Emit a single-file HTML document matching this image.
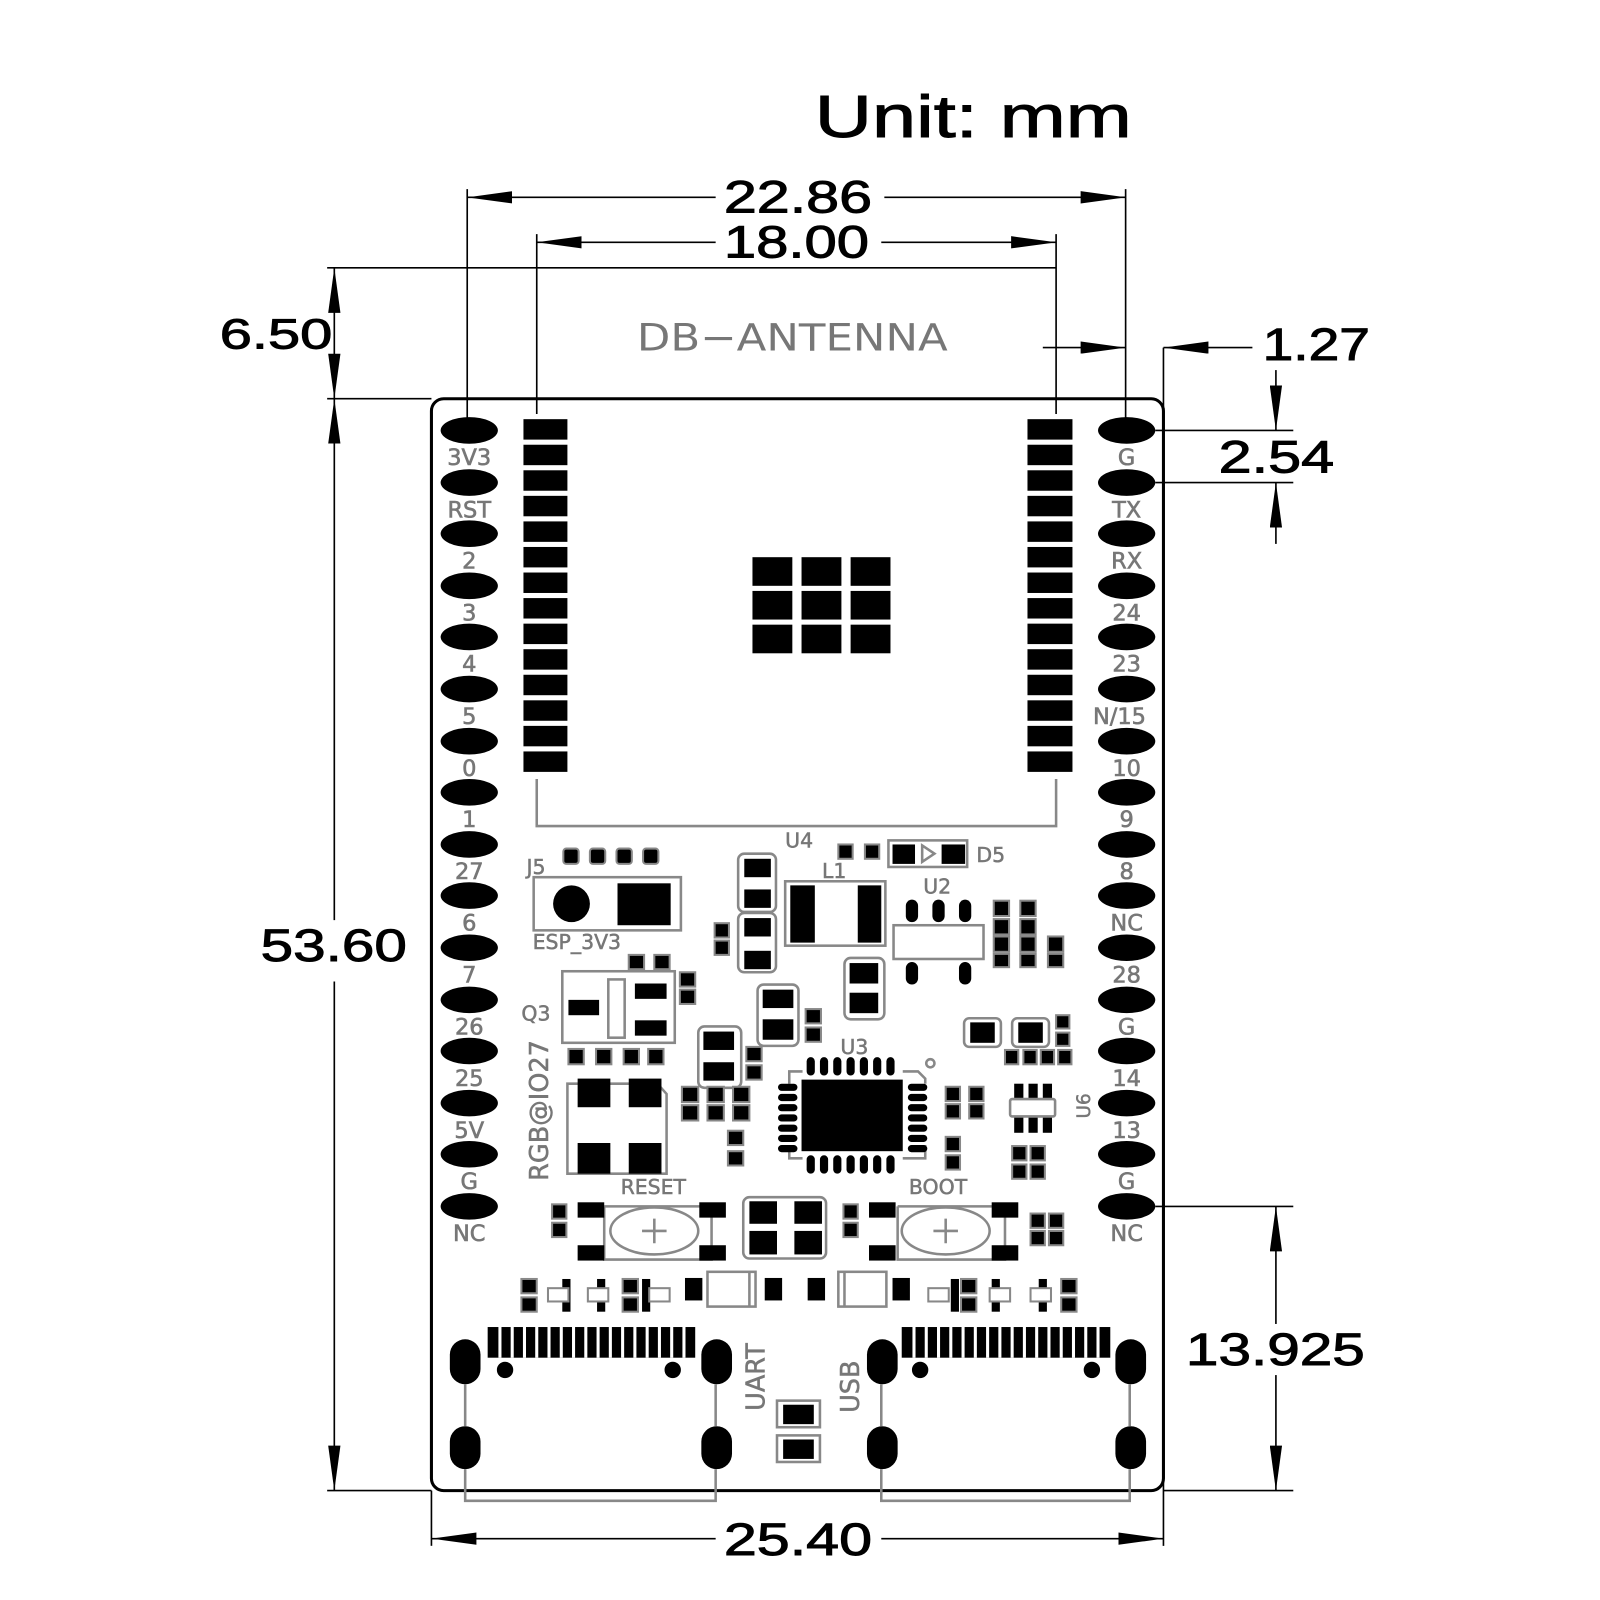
<!DOCTYPE html>
<html><head><meta charset="utf-8"><style>
html,body{margin:0;padding:0;background:#fff;}
svg{display:block;}
.d{font-family:"Liberation Sans",Arial,sans-serif;fill:#000;stroke:#000;stroke-width:0.9;}
.p{font-family:"DejaVu Sans","Liberation Sans",sans-serif;fill:#777;stroke:#777;stroke-width:0.6;font-size:22px;text-anchor:middle;}
.g{fill:none;stroke:#888;stroke-width:2.5;}
.gb{fill:#000;stroke:#888;stroke-width:2;}
</style></head><body>
<svg width="1600" height="1600" viewBox="0 0 1565 1565" xmlns="http://www.w3.org/2000/svg">
<defs>
<marker id="a" markerWidth="44" markerHeight="12" refX="0" refY="6" orient="auto" markerUnits="userSpaceOnUse"><path d="M0,6 L44,0 L44,12 Z" fill="#000"/></marker>
<marker id="b" markerWidth="44" markerHeight="12" refX="44" refY="6" orient="auto" markerUnits="userSpaceOnUse"><path d="M44,6 L0,0 L0,12 Z" fill="#000"/></marker>
</defs>
<rect width="1565" height="1565" fill="#fff"/>
<text x="797" y="134" class="d" font-size="58" textLength="310" lengthAdjust="spacingAndGlyphs">Unit: mm</text>

<!-- dimension lines -->
<g stroke="#000" stroke-width="1.6" fill="none">
<line x1="457" y1="185" x2="457" y2="410"/><line x1="1101" y1="185" x2="1101" y2="410"/>
<line x1="457" y1="193" x2="700" y2="193" marker-start="url(#a)"/><line x1="865" y1="193" x2="1101" y2="193" marker-end="url(#b)"/>
<line x1="525" y1="229" x2="525" y2="405"/><line x1="1033" y1="229" x2="1033" y2="405"/>
<line x1="525" y1="237" x2="700" y2="237" marker-start="url(#a)"/><line x1="862" y1="237" x2="1033" y2="237" marker-end="url(#b)"/>
<line x1="320" y1="262" x2="1033" y2="262"/><line x1="320" y1="390" x2="422" y2="390"/>
<line x1="327" y1="262" x2="327" y2="390" marker-start="url(#a)" marker-end="url(#b)"/>
<line x1="327" y1="390" x2="327" y2="900" marker-start="url(#a)"/><line x1="327" y1="960" x2="327" y2="1458" marker-end="url(#b)"/>
<line x1="320" y1="1458" x2="422" y2="1458"/>
<line x1="1020" y1="340" x2="1101" y2="340" marker-end="url(#b)"/>
<line x1="1138" y1="340" x2="1225" y2="340" marker-start="url(#a)"/>
<line x1="1138" y1="340" x2="1138" y2="1512"/>
<line x1="422" y1="1458" x2="422" y2="1512"/>
<line x1="1130" y1="421" x2="1265" y2="421"/><line x1="1130" y1="472" x2="1265" y2="472"/>
<line x1="1248" y1="362" x2="1248" y2="421" marker-end="url(#b)"/>
<line x1="1248" y1="472" x2="1248" y2="532" marker-start="url(#a)"/>
<line x1="1130" y1="1180" x2="1265" y2="1180"/><line x1="1138" y1="1458" x2="1265" y2="1458"/>
<line x1="1248" y1="1180" x2="1248" y2="1295" marker-start="url(#a)"/><line x1="1248" y1="1345" x2="1248" y2="1458" marker-end="url(#b)"/>
<line x1="422" y1="1505" x2="700" y2="1505" marker-start="url(#a)"/><line x1="862" y1="1505" x2="1138" y2="1505" marker-end="url(#b)"/>
</g>
<text x="708" y="208" class="d" font-size="44" textLength="145" lengthAdjust="spacingAndGlyphs">22.86</text>
<text x="708" y="252" class="d" font-size="44" textLength="142" lengthAdjust="spacingAndGlyphs">18.00</text>
<text x="215" y="341" class="d" font-size="42" textLength="110" lengthAdjust="spacingAndGlyphs">6.50</text>
<text x="255" y="940" class="d" font-size="44" textLength="143" lengthAdjust="spacingAndGlyphs">53.60</text>
<text x="1235" y="352" class="d" font-size="44" textLength="105" lengthAdjust="spacingAndGlyphs">1.27</text>
<text x="1192" y="462" class="d" font-size="44" textLength="113" lengthAdjust="spacingAndGlyphs">2.54</text>
<text x="1160" y="1335" class="d" font-size="44" textLength="175" lengthAdjust="spacingAndGlyphs">13.925</text>
<text x="708" y="1521" class="d" font-size="44" textLength="145" lengthAdjust="spacingAndGlyphs">25.40</text>
<text x="623" y="343" font-family="DejaVu Sans,sans-serif" font-size="37" fill="#777" textLength="304" lengthAdjust="spacingAndGlyphs">DB−ANTENNA</text>

<!-- board -->
<rect x="422" y="390" width="716" height="1068" rx="12" fill="none" stroke="#000" stroke-width="3"/>

<!-- header pads -->
<g fill="#000">
<ellipse cx="459" cy="421" rx="28" ry="13"/><ellipse cx="459" cy="472" rx="28" ry="13"/><ellipse cx="459" cy="522" rx="28" ry="13"/><ellipse cx="459" cy="573" rx="28" ry="13"/><ellipse cx="459" cy="623" rx="28" ry="13"/><ellipse cx="459" cy="674" rx="28" ry="13"/><ellipse cx="459" cy="725" rx="28" ry="13"/><ellipse cx="459" cy="775" rx="28" ry="13"/><ellipse cx="459" cy="826" rx="28" ry="13"/><ellipse cx="459" cy="876" rx="28" ry="13"/><ellipse cx="459" cy="927" rx="28" ry="13"/><ellipse cx="459" cy="978" rx="28" ry="13"/><ellipse cx="459" cy="1028" rx="28" ry="13"/><ellipse cx="459" cy="1079" rx="28" ry="13"/><ellipse cx="459" cy="1129" rx="28" ry="13"/><ellipse cx="459" cy="1180" rx="28" ry="13"/>
<ellipse cx="1102" cy="421" rx="28" ry="13"/><ellipse cx="1102" cy="472" rx="28" ry="13"/><ellipse cx="1102" cy="522" rx="28" ry="13"/><ellipse cx="1102" cy="573" rx="28" ry="13"/><ellipse cx="1102" cy="623" rx="28" ry="13"/><ellipse cx="1102" cy="674" rx="28" ry="13"/><ellipse cx="1102" cy="725" rx="28" ry="13"/><ellipse cx="1102" cy="775" rx="28" ry="13"/><ellipse cx="1102" cy="826" rx="28" ry="13"/><ellipse cx="1102" cy="876" rx="28" ry="13"/><ellipse cx="1102" cy="927" rx="28" ry="13"/><ellipse cx="1102" cy="978" rx="28" ry="13"/><ellipse cx="1102" cy="1028" rx="28" ry="13"/><ellipse cx="1102" cy="1079" rx="28" ry="13"/><ellipse cx="1102" cy="1129" rx="28" ry="13"/><ellipse cx="1102" cy="1180" rx="28" ry="13"/>
</g>
<g class="p">
<text x="459" y="455">3V3</text><text x="459" y="506">RST</text><text x="459" y="556">2</text><text x="459" y="607">3</text><text x="459" y="657">4</text><text x="459" y="708">5</text><text x="459" y="759">0</text><text x="459" y="809">1</text><text x="459" y="860">27</text><text x="459" y="910">6</text><text x="459" y="961">7</text><text x="459" y="1012">26</text><text x="459" y="1062">25</text><text x="459" y="1113">5V</text><text x="459" y="1163">G</text><text x="459" y="1214">NC</text>
<text x="1102" y="455">G</text><text x="1102" y="506">TX</text><text x="1102" y="556">RX</text><text x="1102" y="607">24</text><text x="1102" y="657">23</text><text x="1095" y="708">N/15</text><text x="1102" y="759">10</text><text x="1102" y="809">9</text><text x="1102" y="860">8</text><text x="1102" y="910">NC</text><text x="1102" y="961">28</text><text x="1102" y="1012">G</text><text x="1102" y="1062">14</text><text x="1102" y="1113">13</text><text x="1102" y="1163">G</text><text x="1102" y="1214">NC</text>
</g>

<!-- module pads -->
<g fill="#000">
<rect x="512" y="410" width="43" height="20"/><rect x="512" y="435" width="43" height="20"/><rect x="512" y="460" width="43" height="20"/><rect x="512" y="485" width="43" height="20"/><rect x="512" y="510" width="43" height="20"/><rect x="512" y="535" width="43" height="20"/><rect x="512" y="560" width="43" height="20"/><rect x="512" y="585" width="43" height="20"/><rect x="512" y="610" width="43" height="20"/><rect x="512" y="635" width="43" height="20"/><rect x="512" y="660" width="43" height="20"/><rect x="512" y="685" width="43" height="20"/><rect x="512" y="710" width="43" height="20"/><rect x="512" y="735" width="43" height="20"/>
<rect x="1005" y="410" width="44" height="20"/><rect x="1005" y="435" width="44" height="20"/><rect x="1005" y="460" width="44" height="20"/><rect x="1005" y="485" width="44" height="20"/><rect x="1005" y="510" width="44" height="20"/><rect x="1005" y="535" width="44" height="20"/><rect x="1005" y="560" width="44" height="20"/><rect x="1005" y="585" width="44" height="20"/><rect x="1005" y="610" width="44" height="20"/><rect x="1005" y="635" width="44" height="20"/><rect x="1005" y="660" width="44" height="20"/><rect x="1005" y="685" width="44" height="20"/><rect x="1005" y="710" width="44" height="20"/><rect x="1005" y="735" width="44" height="20"/>
<rect x="736" y="545" width="39" height="28"/><rect x="784" y="545" width="39" height="28"/><rect x="832" y="545" width="39" height="28"/>
<rect x="736" y="578" width="39" height="28"/><rect x="784" y="578" width="39" height="28"/><rect x="832" y="578" width="39" height="28"/>
<rect x="736" y="611" width="39" height="28"/><rect x="784" y="611" width="39" height="28"/><rect x="832" y="611" width="39" height="28"/>
</g>
<path d="M525,762 V808 H1033 V762" class="g"/>

<!-- labels -->
<g font-family="DejaVu Sans,sans-serif" fill="#777" stroke="#777" stroke-width="0.5" font-size="20">
<text x="768" y="829">U4</text><text x="955" y="843">D5</text><text x="515" y="855">J5</text><text x="804" y="859">L1</text><text x="903" y="874">U2</text><text x="521" y="928">ESP_3V3</text><text x="510" y="998">Q3</text><text x="822" y="1031">U3</text>
<text x="607" y="1168">RESET</text><text x="889" y="1168">BOOT</text>
<text transform="translate(536,1155) rotate(-90)" font-size="25">RGB@IO27</text>
<text transform="translate(748,1380) rotate(-90)" font-size="25">UART</text>
<text transform="translate(840,1382) rotate(-90)" font-size="25">USB</text>
<text transform="translate(1066,1094) rotate(-90)" font-size="18">U6</text>
</g>

<!-- J5 / ESP_3V3 -->
<g class="gb"><rect x="551" y="830" width="15" height="15" rx="3"/><rect x="577" y="830" width="15" height="15" rx="3"/><rect x="603" y="830" width="15" height="15" rx="3"/><rect x="629" y="830" width="15" height="15" rx="3"/></g>
<rect x="522" y="858" width="144" height="52" class="g"/>
<circle cx="559" cy="884" r="18"/><rect x="604" y="864" width="52" height="41"/>
<!-- U4/D5 -->
<g class="gb"><rect x="820" y="826" width="14" height="14"/><rect x="846" y="826" width="14" height="14"/></g>
<rect x="869" y="822" width="77" height="26" class="g"/><rect x="873" y="826" width="22" height="19"/><rect x="921" y="826" width="23" height="19"/><path d="M902,827 L914,835 L902,843 Z" class="g"/>
<!-- caps near L1 -->
<rect x="722" y="835" width="37" height="57" rx="6" class="g"/><rect x="728" y="840" width="26" height="18"/><rect x="728" y="870" width="26" height="18"/>
<rect x="722" y="893" width="37" height="58" rx="6" class="g"/><rect x="728" y="898" width="26" height="18"/><rect x="728" y="930" width="26" height="18"/>
<g class="gb"><rect x="699" y="903" width="14" height="14"/><rect x="699" y="920" width="14" height="14"/></g>
<rect x="768" y="862" width="98" height="63" class="g"/><rect x="773" y="866" width="24" height="56"/><rect x="839" y="866" width="23" height="56"/>
<!-- U2 -->
<rect x="886" y="880" width="12" height="22" rx="6"/><rect x="912" y="880" width="12" height="22" rx="6"/><rect x="938" y="880" width="12" height="22" rx="6"/>
<rect x="874" y="905" width="88" height="33" class="g"/>
<rect x="886" y="941" width="12" height="22" rx="6"/><rect x="938" y="941" width="12" height="22" rx="6"/>
<g class="gb"><rect x="972" y="881" width="15" height="15"/><rect x="998" y="881" width="15" height="15"/><rect x="972" y="899" width="15" height="15"/><rect x="998" y="899" width="15" height="15"/><rect x="972" y="916" width="15" height="15"/><rect x="998" y="916" width="15" height="15"/><rect x="1025" y="916" width="15" height="15"/><rect x="972" y="933" width="15" height="13"/><rect x="998" y="933" width="15" height="13"/><rect x="1025" y="933" width="15" height="13"/></g>
<rect x="826" y="937" width="39" height="60" rx="6" class="g"/><rect x="831" y="942" width="28" height="20"/><rect x="831" y="971" width="28" height="20"/>
<!-- Q3 -->
<g class="gb"><rect x="615" y="934" width="15" height="14"/><rect x="640" y="934" width="15" height="14"/><rect x="665" y="951" width="15" height="14"/><rect x="665" y="968" width="15" height="14"/></g>
<rect x="550" y="950" width="110" height="70" class="g"/><rect x="595" y="958" width="16" height="57" class="g"/>
<rect x="556" y="978" width="30" height="15"/><rect x="621" y="962" width="31" height="15"/><rect x="621" y="998" width="31" height="15"/>
<g class="gb"><rect x="556" y="1026" width="15" height="15"/><rect x="583" y="1026" width="15" height="15"/><rect x="610" y="1026" width="15" height="15"/><rect x="634" y="1026" width="15" height="15"/></g>
<!-- RGB LED -->
<path d="M555,1060 H643 L652,1070 V1148 H555 Z" class="g"/>
<rect x="565" y="1055" width="32" height="28"/><rect x="615" y="1055" width="32" height="28"/><rect x="565" y="1118" width="32" height="30"/><rect x="615" y="1118" width="32" height="30"/>
<!-- misc caps -->
<rect x="741" y="963" width="40" height="60" rx="6" class="g"/><rect x="746" y="968" width="30" height="18"/><rect x="746" y="997" width="30" height="20"/>
<g class="gb"><rect x="788" y="987" width="15" height="14"/><rect x="788" y="1005" width="15" height="14"/></g>
<rect x="683" y="1004" width="42" height="60" rx="6" class="g"/><rect x="688" y="1009" width="30" height="18"/><rect x="688" y="1039" width="30" height="18"/>
<g class="gb"><rect x="730" y="1024" width="15" height="14"/><rect x="730" y="1042" width="15" height="14"/>
<rect x="667" y="1063" width="16" height="15"/><rect x="692" y="1063" width="16" height="15"/><rect x="717" y="1063" width="16" height="15"/><rect x="667" y="1081" width="16" height="15"/><rect x="692" y="1081" width="16" height="15"/><rect x="717" y="1081" width="16" height="15"/>
<rect x="712" y="1106" width="15" height="14"/><rect x="712" y="1126" width="15" height="14"/></g>
<!-- U3 -->
<rect x="784" y="1056" width="99" height="70"/>
<path d="M772,1060 V1048 H785 M883,1048 H898 L905,1055 V1060 M772,1120 V1133 H785 M883,1133 H905 V1120" class="g"/>
<circle cx="910" cy="1040" r="4" class="g"/>
<g fill="#000">
<rect x="789" y="1034" width="8" height="18" rx="4"/><rect x="802" y="1034" width="8" height="18" rx="4"/><rect x="815" y="1034" width="8" height="18" rx="4"/><rect x="828" y="1034" width="8" height="18" rx="4"/><rect x="841" y="1034" width="8" height="18" rx="4"/><rect x="854" y="1034" width="8" height="18" rx="4"/><rect x="867" y="1034" width="8" height="18" rx="4"/>
<rect x="789" y="1130" width="8" height="18" rx="4"/><rect x="802" y="1130" width="8" height="18" rx="4"/><rect x="815" y="1130" width="8" height="18" rx="4"/><rect x="828" y="1130" width="8" height="18" rx="4"/><rect x="841" y="1130" width="8" height="18" rx="4"/><rect x="854" y="1130" width="8" height="18" rx="4"/><rect x="867" y="1130" width="8" height="18" rx="4"/>
<rect x="761" y="1060" width="19" height="7" rx="3.5"/><rect x="761" y="1070" width="19" height="7" rx="3.5"/><rect x="761" y="1080" width="19" height="7" rx="3.5"/><rect x="761" y="1090" width="19" height="7" rx="3.5"/><rect x="761" y="1100" width="19" height="7" rx="3.5"/><rect x="761" y="1110" width="19" height="7" rx="3.5"/><rect x="761" y="1120" width="19" height="7" rx="3.5"/>
<rect x="888" y="1060" width="19" height="7" rx="3.5"/><rect x="888" y="1070" width="19" height="7" rx="3.5"/><rect x="888" y="1080" width="19" height="7" rx="3.5"/><rect x="888" y="1090" width="19" height="7" rx="3.5"/><rect x="888" y="1100" width="19" height="7" rx="3.5"/><rect x="888" y="1110" width="19" height="7" rx="3.5"/><rect x="888" y="1120" width="19" height="7" rx="3.5"/>
</g>
<g class="gb"><rect x="925" y="1063" width="14" height="14"/><rect x="948" y="1063" width="14" height="14"/><rect x="925" y="1080" width="14" height="14"/><rect x="948" y="1080" width="14" height="14"/><rect x="925" y="1112" width="14" height="14"/><rect x="925" y="1130" width="14" height="14"/></g>
<!-- right-middle -->
<rect x="943" y="996" width="36" height="28" rx="5" class="g"/><rect x="949" y="1000" width="24" height="20"/>
<rect x="990" y="996" width="36" height="28" rx="5" class="g"/><rect x="996" y="1000" width="24" height="20"/>
<g class="gb"><rect x="1033" y="993" width="13" height="13"/><rect x="1033" y="1010" width="13" height="13"/><rect x="983" y="1027" width="13" height="14"/><rect x="1001" y="1027" width="13" height="14"/><rect x="1018" y="1027" width="13" height="14"/><rect x="1035" y="1027" width="13" height="14"/></g>
<!-- U6 -->
<rect x="992" y="1060" width="9" height="48"/><rect x="1006" y="1060" width="9" height="48"/><rect x="1020" y="1060" width="9" height="48"/>
<rect x="988" y="1075" width="44" height="17" rx="2" fill="#fff" stroke="#888" stroke-width="2.5"/>
<g class="gb"><rect x="990" y="1121" width="14" height="14"/><rect x="1008" y="1121" width="14" height="14"/><rect x="990" y="1139" width="14" height="14"/><rect x="1008" y="1139" width="14" height="14"/></g>
<!-- buttons -->
<g class="g"><path d="M591,1180 V1232 H696 V1180 M591,1180 H696"/><ellipse cx="640" cy="1204" rx="43" ry="23"/><path d="M628,1204 H652 M640,1192 V1216"/>
<path d="M878,1180 V1232 H983 V1180 M878,1180 H983"/><ellipse cx="925" cy="1204" rx="43" ry="23"/><path d="M913,1204 H937 M925,1192 V1216"/></g>
<g fill="#000"><rect x="565" y="1176" width="26" height="15"/><rect x="684" y="1176" width="26" height="15"/><rect x="565" y="1218" width="26" height="15"/><rect x="684" y="1218" width="26" height="15"/>
<rect x="850" y="1176" width="26" height="15"/><rect x="970" y="1176" width="26" height="15"/><rect x="850" y="1218" width="26" height="15"/><rect x="970" y="1218" width="26" height="15"/></g>
<g class="gb"><rect x="540" y="1178" width="14" height="14"/><rect x="540" y="1196" width="14" height="14"/><rect x="825" y="1178" width="14" height="14"/><rect x="825" y="1196" width="14" height="14"/>
<rect x="1008" y="1187" width="14" height="14"/><rect x="1026" y="1187" width="14" height="14"/><rect x="1008" y="1204" width="14" height="14"/><rect x="1026" y="1204" width="14" height="14"/></g>
<rect x="727" y="1171" width="81" height="60" rx="6" class="g"/>
<rect x="733" y="1175" width="27" height="22"/><rect x="777" y="1175" width="27" height="22"/><rect x="733" y="1204" width="27" height="23"/><rect x="777" y="1204" width="27" height="23"/>
<!-- row at 1250 -->
<g fill="#000"><rect x="550" y="1251" width="8" height="32"/><rect x="584" y="1251" width="8" height="32"/><rect x="628" y="1251" width="8" height="32"/><rect x="930" y="1251" width="8" height="32"/><rect x="970" y="1251" width="8" height="32"/><rect x="1016" y="1251" width="8" height="32"/>
<rect x="670" y="1250" width="17" height="22"/><rect x="748" y="1250" width="17" height="22"/><rect x="790" y="1250" width="17" height="22"/><rect x="873" y="1250" width="17" height="22"/></g>
<g class="gb"><rect x="510" y="1251" width="15" height="14"/><rect x="510" y="1269" width="15" height="14"/><rect x="609" y="1251" width="15" height="14"/><rect x="609" y="1269" width="15" height="14"/><rect x="940" y="1251" width="15" height="14"/><rect x="940" y="1269" width="15" height="14"/><rect x="1038" y="1251" width="15" height="14"/><rect x="1038" y="1269" width="15" height="14"/></g>
<g fill="#fff" stroke="#888" stroke-width="2"><rect x="536" y="1260" width="20" height="13"/><rect x="575" y="1260" width="20" height="13"/><rect x="635" y="1260" width="20" height="13"/><rect x="908" y="1260" width="20" height="13"/><rect x="968" y="1260" width="20" height="13"/><rect x="1008" y="1260" width="20" height="13"/></g>
<rect x="692" y="1244" width="47" height="34" class="g"/><line x1="733" y1="1244" x2="733" y2="1278" class="g"/>
<rect x="820" y="1244" width="47" height="34" class="g"/><line x1="826" y1="1244" x2="826" y2="1278" class="g"/>
<!-- USB connectors -->
<g fill="#000">
<rect x="477" y="1298" width="203" height="30"/>
<rect x="882" y="1298" width="204" height="30"/>
<rect x="440" y="1310" width="30" height="44" rx="15"/><rect x="686" y="1310" width="30" height="44" rx="15"/>
<rect x="440" y="1395" width="30" height="42" rx="15"/><rect x="686" y="1395" width="30" height="42" rx="15"/>
<rect x="848" y="1310" width="30" height="44" rx="15"/><rect x="1091" y="1310" width="30" height="44" rx="15"/>
<rect x="848" y="1395" width="30" height="42" rx="15"/><rect x="1091" y="1395" width="30" height="42" rx="15"/>
<circle cx="494" cy="1340" r="8"/><circle cx="658" cy="1340" r="8"/><circle cx="900" cy="1340" r="8"/><circle cx="1068" cy="1340" r="8"/>
</g>
<g stroke="#fff" stroke-width="3"><path d="M489,1298V1328M501,1298V1328M513,1298V1328M525,1298V1328M537,1298V1328M549,1298V1328M561,1298V1328M573,1298V1328M585,1298V1328M597,1298V1328M609,1298V1328M621,1298V1328M633,1298V1328M645,1298V1328M657,1298V1328M669,1298V1328"/>
<path d="M894,1298V1328M906,1298V1328M918,1298V1328M930,1298V1328M942,1298V1328M954,1298V1328M966,1298V1328M978,1298V1328M990,1298V1328M1002,1298V1328M1014,1298V1328M1026,1298V1328M1038,1298V1328M1050,1298V1328M1062,1298V1328M1074,1298V1328"/></g>
<path d="M455,1354 V1395 M455,1437 V1468 H700 V1437 M700,1354 V1395 M862,1354 V1395 M862,1437 V1468 H1105 V1437 M1105,1354 V1395" class="g"/>
<rect x="760" y="1370" width="42" height="26" class="g"/><rect x="766" y="1374" width="30" height="19"/>
<rect x="760" y="1404" width="42" height="26" class="g"/><rect x="766" y="1408" width="30" height="19"/>
</svg>
</body></html>
